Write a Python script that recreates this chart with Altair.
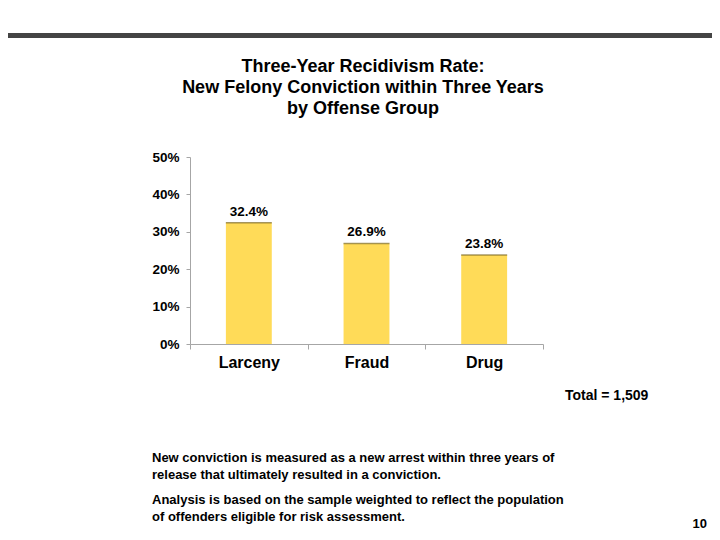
import altair as alt
import pandas as pd

categories = ["Larceny", "Fraud", "Drug"]
rates = [0.324, 0.269, 0.238]
y_ticks = [0, 0.1, 0.2, 0.3, 0.4, 0.5]

title_lines = [
    "Three-Year Recidivism Rate:",
    "New Felony Conviction within Three Years",
    "by Offense Group",
]
total_text = "Total = 1,509"
notes = [
    "New conviction is measured as a new arrest within three years of",
    "release that ultimately resulted in a conviction.",
    "Analysis is based on the sample weighted to reflect the population",
    "of offenders eligible for risk assessment.",
]
page_number = "10"

FONT = "Liberation Sans"
df = pd.DataFrame({"group": categories, "rate": rates})

x_enc = alt.X(
    "group:N",
    sort=categories,
    title=None,
    scale=alt.Scale(paddingInner=0, paddingOuter=0),
    axis=alt.Axis(
        labelAngle=0,
        labelFont=FONT,
        labelFontSize=16,
        labelFontWeight="bold",
        labelColor="#000000",
        labelPadding=5,
        tickBand="extent",
        tickSize=5,
        tickColor="#a6a6a6",
        domainColor="#a6a6a6",
        grid=False,
    ),
)
y_enc = alt.Y(
    "rate:Q",
    title=None,
    scale=alt.Scale(domain=[0, 0.5], nice=False),
    axis=alt.Axis(
        values=y_ticks,
        format=".0%",
        labelFont=FONT,
        labelFontSize=13.5,
        labelFontWeight="bold",
        labelColor="#000000",
        labelPadding=7,
        labelOverlap=False,
        labelFlush=False,
        labelBound=False,
        tickSize=4,
        tickColor="#a6a6a6",
        domainColor="#a6a6a6",
        grid=False,
    ),
)

base = alt.Chart(df)
bars = base.mark_bar(color="#FFDB58", width=alt.RelativeBandSize(0.39)).encode(x=x_enc, y=y_enc)
tops = base.mark_tick(color="#7d6b28", size=46, thickness=1.5, orient="horizontal").encode(
    x=x_enc, y=y_enc
)
values = base.mark_text(
    font=FONT, fontSize=13.5, fontWeight="bold", baseline="alphabetic", dy=-7, color="#000000"
).encode(x=x_enc, y=y_enc, text=alt.Text("rate:Q", format=".1%"))

# Slide decorations (positions relative to plot area origin)
top_rule = alt.Chart(pd.DataFrame({"a": [0]})).mark_rule(color="#444444", strokeWidth=5).encode(
    x=alt.value(-190), x2=alt.value(530), y=alt.value(-121.5)
)

layers = [top_rule]
for line, yy in zip(title_lines, [-90, -69, -48]):
    layers.append(
        alt.Chart(pd.DataFrame({"t": [line]})).mark_text(
            font=FONT, fontSize=18, fontWeight="bold", align="center", baseline="middle", color="#000000"
        ).encode(x=alt.value(173), y=alt.value(yy), text="t:N")
    )

layers.append(
    alt.Chart(pd.DataFrame({"t": [total_text]})).mark_text(
        font=FONT, fontSize=14, fontWeight="bold", align="left", baseline="middle", color="#000000"
    ).encode(x=alt.value(375), y=alt.value(239), text="t:N")
)
for line, yy in zip(notes, [301, 318, 343, 360]):
    layers.append(
        alt.Chart(pd.DataFrame({"t": [line]})).mark_text(
            font=FONT, fontSize=13, fontWeight="bold", align="left", baseline="middle", color="#000000"
        ).encode(x=alt.value(-38), y=alt.value(yy), text="t:N")
    )
layers.append(
    alt.Chart(pd.DataFrame({"t": [page_number]})).mark_text(
        font=FONT, fontSize=13, fontWeight="bold", align="right", baseline="middle", color="#000000"
    ).encode(x=alt.value(517), y=alt.value(367), text="t:N")
)

chart = alt.layer(bars, tops, values, *layers).properties(
    width=353,
    height=187,
    autosize=alt.AutoSizeParams(type="none"),
    padding={"left": 182, "top": 149, "right": 169, "bottom": 186},
    background="#ffffff",
).configure_view(stroke=None)

chart.save("out.html", embed_options={"renderer": "svg", "actions": False})
